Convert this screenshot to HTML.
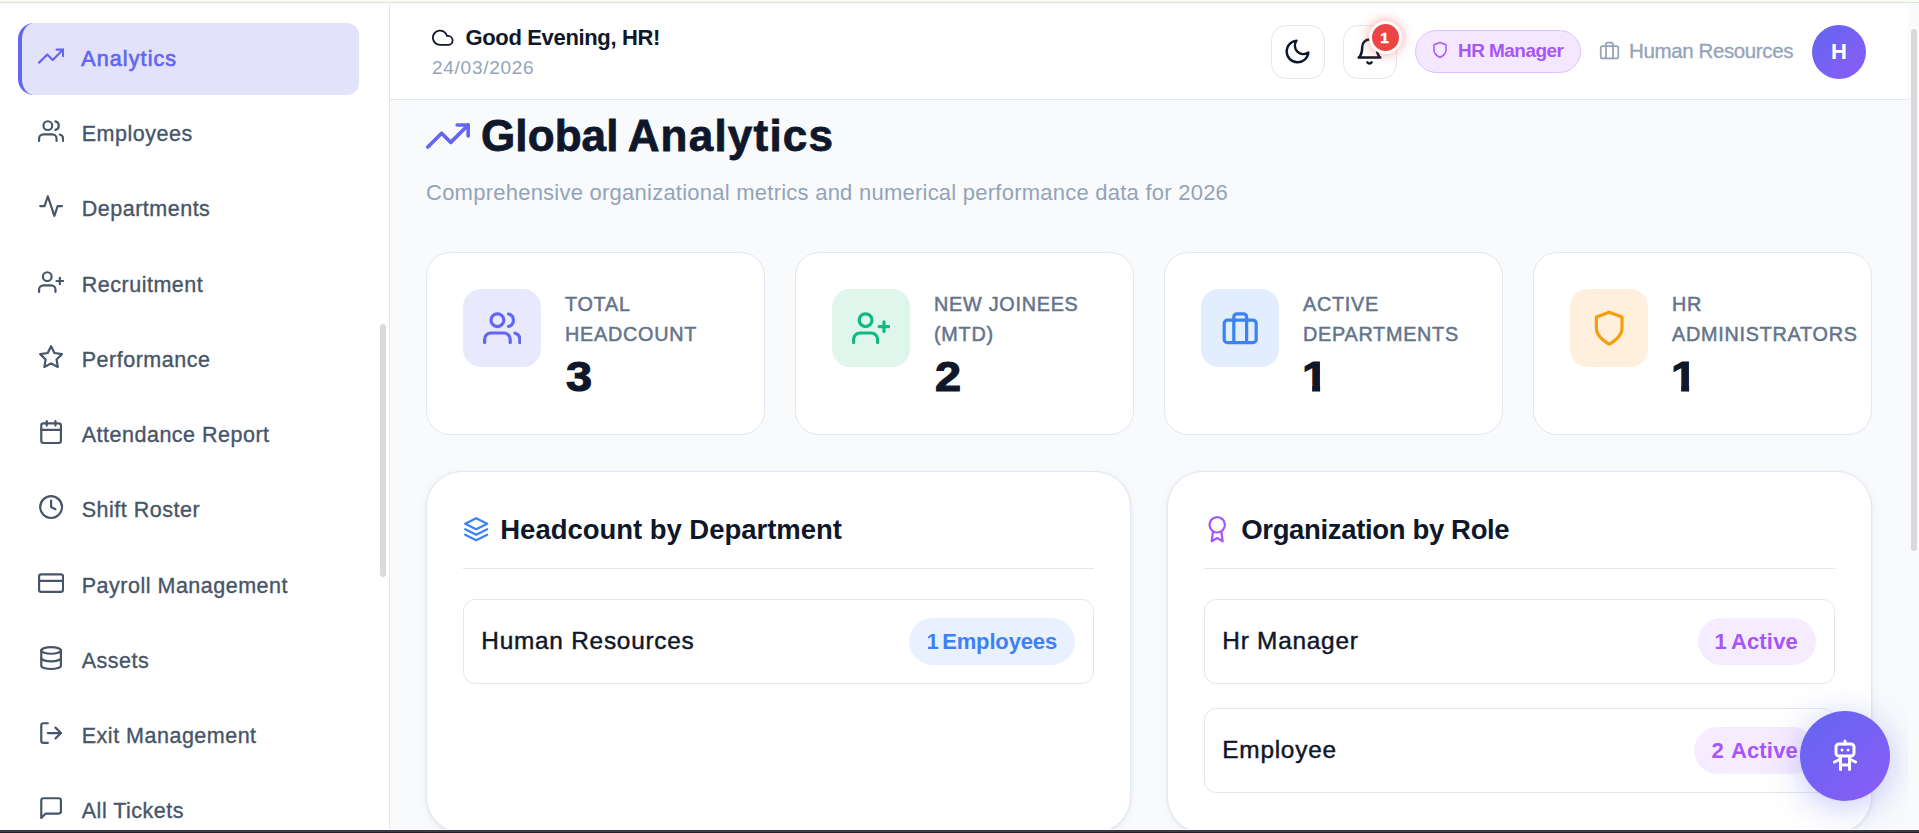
<!DOCTYPE html>
<html lang="en">
<head>
<meta charset="utf-8">
<title>Global Analytics</title>
<style>
*{box-sizing:border-box;margin:0;padding:0}
html,body{width:1919px;height:833px;overflow:hidden;background:#f8fafc;font-family:"Liberation Sans",sans-serif;color:#0f172a}
svg{display:block;fill:none;stroke:currentColor;stroke-width:2;stroke-linecap:round;stroke-linejoin:round}
.abs{position:absolute}
#topstrip{position:absolute;left:0;top:0;width:1919px;height:4px;background:linear-gradient(#f7faf1 0,#f7faf1 2px,#dee4d9 2px,#dee4d9 3px,#fafcf6 3px,#fafcf6 4px);z-index:50}
#botbar{position:absolute;left:0;top:829px;width:1919px;height:4px;background:linear-gradient(#fff 0,#fff 1px,#36353c 1px,#36353c 2px,#3f3e46 2px,#3f3e46 3px,#211e2a 3px,#211e2a 4px);z-index:60}
#vscroll{position:absolute;left:1908px;top:3px;width:11px;height:827px;background:#f8fafc;z-index:40}
#vscroll i{position:absolute;left:3px;top:26px;width:6px;height:522px;border-radius:3px;background:#d9d9dc}

/* sidebar */
#side{position:absolute;left:0;top:3px;width:390px;height:827px;background:#fff;border-right:1px solid #e2e8f0;overflow:hidden}
#side nav{position:absolute;left:18px;top:20px;width:341px}
#side a{display:flex;align-items:center;height:72px;margin-bottom:3px;padding-left:20px;border-radius:12px;color:#475569;font-size:21.5px;font-weight:400;text-decoration:none;letter-spacing:.5px;-webkit-text-stroke:.35px currentColor}
#side a:nth-child(3),#side a:nth-child(7){margin-bottom:4px}
#side a svg{width:26.2px;height:26.2px;margin:-6px 17.6px 0 0;flex:none;stroke-width:2}
#side a.on{background:#e2e2fa;color:#6366f1;letter-spacing:1.1px;-webkit-text-stroke:.7px currentColor;border-left:4.5px solid #6366f1;padding-left:15.5px;border-radius:16px 12px 12px 16px}
#sthumb{position:absolute;left:380px;top:320.5px;width:6px;height:253px;border-radius:3px;background:#dbdbdb}

/* header */
#hdr{position:absolute;left:390px;top:3px;width:1518px;height:97px;background:#fff;border-bottom:1px solid #e2e8f0}

#hdr .greet{position:absolute;left:42px;top:21px;display:flex;align-items:center;height:28px;font-size:22px;font-weight:700;color:#0f172a;letter-spacing:-.35px}
#hdr .greet svg{width:21.5px;height:21.5px;margin:-1.5px 12px 0 0;stroke-width:2}
#hdr .date{position:absolute;left:42px;top:53.7px;font-size:19px;color:#94a3b8;line-height:22px;letter-spacing:.73px}
.ibtn{position:absolute;top:22px;width:54px;height:54px;border:1px solid #e7e7ea;border-radius:15px;background:#fff;color:#0f172a;display:flex;align-items:center;justify-content:center}
.ibtn svg{width:29px;height:29px;transform:translate(-1px,-1px)}
.badge{position:absolute;top:17.5px;width:33px;height:33px;border-radius:50%;background:#ef4444;border:3px solid #fff;color:#fff;font-size:15.5px;font-weight:700;-webkit-text-stroke:.4px #fff;padding:1px 2px 0 0;display:flex;align-items:center;justify-content:center;box-shadow:0 0 12px rgba(239,68,68,.5)}
.rolepill{position:absolute;left:1025px;top:27px;width:166px;height:43px;border-radius:22px;background:#f3e8ff;border:1px solid #dfc0fb;color:#a855f7;display:flex;align-items:center;padding:0 0 2px 15px;font-size:19px;font-weight:700;letter-spacing:-.55px}
.rolepill svg{width:18px;height:18px;margin:-.5px 9px 0 0}
.dept{position:absolute;left:1208.5px;top:33px;height:30px;display:flex;align-items:center;color:#94a3b8;font-size:20.5px;letter-spacing:-.38px;-webkit-text-stroke:.3px currentColor}
.dept svg{width:21px;height:21px;margin:-1px 9.5px 0 0}
.avatar{position:absolute;left:1422px;top:22px;letter-spacing:0;width:54px;height:54px;border-radius:50%;background:linear-gradient(135deg,#6366f1,#8b5cf6);color:#fff;font-size:22px;font-weight:700;display:flex;align-items:center;justify-content:center}

/* main */
#main{position:absolute;left:390px;top:100px;width:1518px;height:730px;overflow:hidden}
.title{position:absolute;left:34px;top:10px;display:flex;align-items:center;height:48px}
.title svg{width:44px;height:44px;color:#6366f1;margin:3px 11px 0 2px}
.title h1{font-size:44px;font-weight:700;letter-spacing:.1px;word-spacing:-3.2px;-webkit-text-stroke:.8px #0f172a;position:relative;top:2px;color:#0f172a;line-height:48px}
.sub{position:absolute;left:36px;top:79px;font-size:22px;line-height:28px;color:#94a3b8;letter-spacing:.24px}
.stat{position:absolute;top:152px;width:339px;height:183px;background:#fff;border:1px solid #e2e8f0;border-radius:24px;padding:36px}
.stat .ic{position:absolute;left:36px;top:36px;width:78px;height:78px;border-radius:18px;display:flex;align-items:center;justify-content:center}
.stat .ic svg{width:38.4px;height:38.4px}
.stat .lb{position:absolute;left:138px;top:36px;font-size:19.8px;line-height:30px;font-weight:400;-webkit-text-stroke:.5px currentColor;letter-spacing:.75px;color:#64748b;text-transform:uppercase;white-space:nowrap}
.stat .num{position:absolute;left:139px;top:98.8px;font-size:43px;line-height:48px;font-weight:700;color:#0f172a;-webkit-text-stroke:1.2px #0f172a;transform:scaleX(1.09);transform-origin:0 50%}
.panel{position:absolute;top:371px;width:705px;height:362px;background:#fff;border:1px solid #e2e8f0;border-radius:36px;box-shadow:0 1px 3px rgba(15,23,42,.05),0 2px 8px rgba(100,116,139,.08)}
.panel .ph{position:absolute;left:36px;top:36px;width:631px;height:61px;border-bottom:1px solid #e2e8f0;display:flex;align-items:flex-start}
.panel .ph svg{width:26.4px;height:26.4px;margin:8.3px 10.9px 0 0}
.panel .ph h2{font-size:27.5px;line-height:42px;font-weight:700;color:#0f172a;letter-spacing:-.03px;position:relative;top:1px}
.row{position:absolute;left:36px;width:631px;height:85px;border:1px solid #e2e8f0;border-radius:12px;display:flex;align-items:center;justify-content:space-between;padding:0 18px 0 17.3px;font-size:24.4px;color:#0f172a;letter-spacing:.75px;-webkit-text-stroke:.45px currentColor}
.row span{position:relative;top:-1px}
.row b{display:flex;align-items:center;height:47px;padding:0 18px;border-radius:24px;font-size:22px;font-weight:700;letter-spacing:-.45px;-webkit-text-stroke:0}
.blue b{background:#e9f0fe;color:#3b82f6;letter-spacing:-.15px;word-spacing:-2.4px}
.purple b{background:#f6ecff;color:#a855f7;letter-spacing:.18px;word-spacing:-1.4px}
#fab{position:absolute;left:1800px;top:711px;width:90px;height:90px;border-radius:50%;background:linear-gradient(135deg,#6366f1,#8b5cf6);box-shadow:0 6px 34px rgba(99,102,241,.36);z-index:30;display:flex;align-items:center;justify-content:center;color:#fff}
#fab svg{width:36px;height:36px}
.stat .num.one{left:137.4px;clip-path:polygon(0 0,16.7px 0,16.7px 100%,9.3px 100%,9.3px 33.8px,0 33.8px)}
</style>
</head>
<body>
<div id="topstrip"></div>

<aside id="side">
<nav>
<a class="on" href="#"><svg viewBox="0 0 24 24"><polyline points="23 6 13.5 15.5 8.5 10.5 1 18"/><polyline points="17 6 23 6 23 12"/></svg><span>Analytics</span></a>
<a href="#"><svg viewBox="0 0 24 24"><path d="M17 21v-2a4 4 0 0 0-4-4H5a4 4 0 0 0-4 4v2"/><circle cx="9" cy="7" r="4"/><path d="M23 21v-2a4 4 0 0 0-3-3.87"/><path d="M16 3.13a4 4 0 0 1 0 7.75"/></svg><span>Employees</span></a>
<a href="#"><svg viewBox="0 0 24 24"><polyline points="22 12 18 12 15 21 9 3 6 12 2 12"/></svg><span>Departments</span></a>
<a href="#"><svg viewBox="0 0 24 24"><path d="M16 21v-2a4 4 0 0 0-4-4H5a4 4 0 0 0-4 4v2"/><circle cx="8.5" cy="7" r="4"/><line x1="20" y1="8" x2="20" y2="14"/><line x1="23" y1="11" x2="17" y2="11"/></svg><span>Recruitment</span></a>
<a href="#"><svg viewBox="0 0 24 24"><polygon points="12 2 15.09 8.26 22 9.27 17 14.14 18.18 21.02 12 17.77 5.82 21.02 7 14.14 2 9.27 8.91 8.26 12 2"/></svg><span>Performance</span></a>
<a href="#"><svg viewBox="0 0 24 24"><rect x="3" y="4" width="18" height="18" rx="2" ry="2"/><line x1="16" y1="2" x2="16" y2="6"/><line x1="8" y1="2" x2="8" y2="6"/><line x1="3" y1="10" x2="21" y2="10"/></svg><span>Attendance Report</span></a>
<a href="#"><svg viewBox="0 0 24 24"><circle cx="12" cy="12" r="10"/><polyline points="12 6 12 12 16 14"/></svg><span>Shift Roster</span></a>
<a href="#"><svg viewBox="0 0 24 24"><rect x="1" y="4" width="22" height="16" rx="2" ry="2"/><line x1="1" y1="10" x2="23" y2="10"/></svg><span>Payroll Management</span></a>
<a href="#"><svg viewBox="0 0 24 24"><ellipse cx="12" cy="5" rx="9" ry="3"/><path d="M21 12c0 1.66-4 3-9 3s-9-1.34-9-3"/><path d="M3 5v14c0 1.66 4 3 9 3s9-1.34 9-3V5"/></svg><span>Assets</span></a>
<a href="#"><svg viewBox="0 0 24 24"><path d="M9 21H5a2 2 0 0 1-2-2V5a2 2 0 0 1 2-2h4"/><polyline points="16 17 21 12 16 7"/><line x1="21" y1="12" x2="9" y2="12"/></svg><span>Exit Management</span></a>
<a href="#"><svg viewBox="0 0 24 24"><path d="M21 15a2 2 0 0 1-2 2H7l-4 4V5a2 2 0 0 1 2-2h14a2 2 0 0 1 2 2z"/></svg><span>All Tickets</span></a>
</nav>
<div id="sthumb"></div>
</aside>

<header id="hdr">
<div class="greet"><svg viewBox="0 0 24 24"><path d="M18 10h-1.26A8 8 0 1 0 9 20h9a5 5 0 0 0 0-10z"/></svg><span>Good Evening, HR!</span></div>
<div class="date">24/03/2026</div>
<div class="ibtn" style="left:881px"><svg viewBox="0 0 24 24"><path d="M21 12.79A9 9 0 1 1 11.21 3 7 7 0 0 0 21 12.79z"/></svg></div>
<div class="ibtn" style="left:953px"><svg viewBox="0 0 24 24"><path d="M18 8A6 6 0 0 0 6 8c0 7-3 9-3 9h18s-3-2-3-9"/><path d="M13.73 21a2 2 0 0 1-3.46 0"/></svg></div>
<div class="badge" style="left:979px">1</div>
<div class="rolepill"><svg viewBox="0 0 24 24"><path d="M12 22s8-4 8-10V5l-8-3-8 3v7c0 6 8 10 8 10z"/></svg><span>HR Manager</span></div>
<div class="dept"><svg viewBox="0 0 24 24"><rect x="2" y="7" width="20" height="14" rx="2" ry="2"/><path d="M16 21V5a2 2 0 0 0-2-2h-4a2 2 0 0 0-2 2v16"/></svg><span>Human Resources</span></div>
<div class="avatar">H</div>
</header>

<main id="main">
<div class="title"><svg viewBox="0 0 24 24"><polyline points="23 6 13.5 15.5 8.5 10.5 1 18"/><polyline points="17 6 23 6 23 12"/></svg><h1>Global <span style="letter-spacing:1.22px">Analytics</span></h1></div>
<p class="sub">Comprehensive organizational metrics and numerical performance data for 2026</p>

<div class="stat" style="left:36px"><div class="ic" style="background:#e9e9fd;color:#6366f1"><svg viewBox="0 0 24 24"><path d="M17 21v-2a4 4 0 0 0-4-4H5a4 4 0 0 0-4 4v2"/><circle cx="9" cy="7" r="4"/><path d="M23 21v-2a4 4 0 0 0-3-3.87"/><path d="M16 3.13a4 4 0 0 1 0 7.75"/></svg></div><div class="lb">Total<br>Headcount</div><div class="num">3</div></div>
<div class="stat" style="left:405px"><div class="ic" style="background:#dff6ec;color:#10b981"><svg viewBox="0 0 24 24"><path d="M16 21v-2a4 4 0 0 0-4-4H5a4 4 0 0 0-4 4v2"/><circle cx="8.5" cy="7" r="4"/><line x1="20" y1="8" x2="20" y2="14"/><line x1="23" y1="11" x2="17" y2="11"/></svg></div><div class="lb">New Joinees<br>(MTD)</div><div class="num">2</div></div>
<div class="stat" style="left:774px"><div class="ic" style="background:#e2edfe;color:#3b82f6"><svg viewBox="0 0 24 24"><rect x="2" y="7" width="20" height="14" rx="2" ry="2"/><path d="M16 21V5a2 2 0 0 0-2-2h-4a2 2 0 0 0-2 2v16"/></svg></div><div class="lb">Active<br>Departments</div><div class="num one">1</div></div>
<div class="stat" style="left:1143px"><div class="ic" style="background:#fef0dc;color:#f59e0b"><svg viewBox="0 0 24 24"><path d="M12 22s8-4 8-10V5l-8-3-8 3v7c0 6 8 10 8 10z"/></svg></div><div class="lb">HR<br>Administrators</div><div class="num one">1</div></div>

<section class="panel" style="left:36px">
<div class="ph"><svg viewBox="0 0 24 24" style="color:#3b82f6"><polygon points="12 2 2 7 12 12 22 7 12 2"/><polyline points="2 17 12 22 22 17"/><polyline points="2 12 12 17 22 12"/></svg><h2>Headcount by Department</h2></div>
<div class="row blue" style="top:127px"><span>Human Resources</span><b>1 Employees</b></div>
</section>
<section class="panel" style="left:777px">
<div class="ph"><svg viewBox="0 0 24 24" style="color:#a855f7"><circle cx="12" cy="8" r="7"/><polyline points="8.21 13.89 7 23 12 20 17 23 15.79 13.88"/></svg><h2 style="letter-spacing:-.35px">Organization by Role</h2></div>
<div class="row purple" style="top:127px"><span>Hr Manager</span><b style="padding-left:16.3px">1 Active</b></div>
<div class="row purple" style="top:236px"><span>Employee</span><b style="word-spacing:1.4px">2 Active</b></div>
</section>
</main>

<div id="fab"><svg viewBox="0 0 24 24"><path d="M6 6a2 2 0 0 1 2-2h8a2 2 0 0 1 2 2v4a2 2 0 0 1-2 2H8a2 2 0 0 1-2-2z"/><path d="M12 2v2"/><path d="M9 12v9"/><path d="M15 12v9"/><path d="M5 16l4-2"/><path d="M15 14l4 2"/><path d="M9 18h6"/><path d="M10 8v.01"/><path d="M14 8v.01"/></svg></div>

<div id="vscroll"><i></i></div>
<div id="botbar"></div>
</body>
</html>
